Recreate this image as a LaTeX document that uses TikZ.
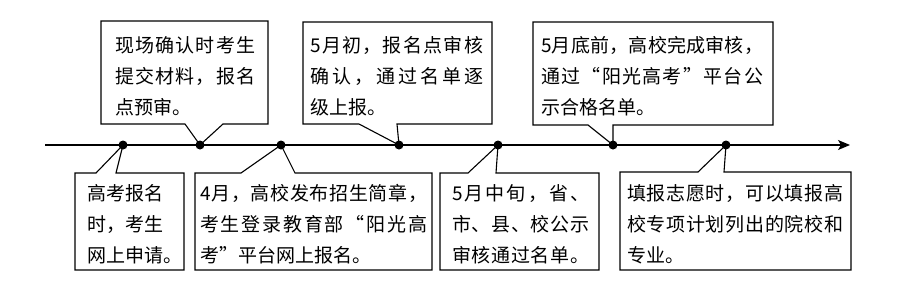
\documentclass[tikz,border=0pt]{standalone}
\usepackage{fontspec}
\newfontfamily\cjk{Noto Sans CJK SC}
\usetikzlibrary{arrows.meta}
\def\spx#1{\ifx\relax#1\else#1\hskip 0pt plus 1fill minus 2pt\expandafter\spx\fi}
\newcommand\jl[2]{\hbox to #1{\spx#2\relax\unskip}}
\newcommand\nl[1]{\hbox{#1}}
\tikzset{
  outline/.style={line width=1.1pt, line join=miter},
  txt/.style={anchor=base west, inner sep=0pt, font=\cjk\fontsize{19}{31}\selectfont},
  dot/.style={circle, fill=black, inner sep=0pt, minimum size=9pt},
}
\begin{document}
\begin{tikzpicture}[x=1pt,y=-1pt]
\useasboundingbox (0,0) rectangle (900,301);
% axis
\coordinate (axs) at (45,145);
\coordinate (axe) at (850,145);
\draw[line width=1.1pt, -{Stealth[length=12pt,width=10pt,inset=3pt]}] (axs) -- (axe);
% dot positions
\coordinate (p1) at (123,145);
\coordinate (p2) at (200,145);
\coordinate (p3) at (281,145);
\coordinate (p4) at (399,145);
\coordinate (p5) at (498,145);
\coordinate (p6) at (613,145);
\coordinate (p7) at (726,145);
% upper boxes
\draw[outline] (101,21) -- (268,21) -- (268,124) -- (223,124) -- (p2) -- (185,124) -- (101,124) -- cycle;
\draw[outline] (303,22) -- (492,22) -- (492,124) -- (397,124) -- (p4) -- (359,124) -- (303,124) -- cycle;
\draw[outline] (533,22) -- (773,22) -- (773,125) -- (613,125) -- (p6) -- (588,125) -- (533,125) -- cycle;
% lower boxes
\draw[outline] (75,270) -- (184,270) -- (184,173) -- (116,173) -- (p1) -- (96,173) -- (75,173) -- cycle;
\draw[outline] (195,270) -- (432,270) -- (432,173) -- (295,173) -- (p3) -- (241,173) -- (195,173) -- cycle;
\draw[outline] (440,270) -- (599,270) -- (599,173) -- (496,173) -- (p5) -- (468,173) -- (440,173) -- cycle;
\draw[outline] (620,270) -- (851,270) -- (851,172) -- (724,172) -- (p7) -- (698,172) -- (620,172) -- cycle;
% dots
\foreach \i in {1,...,7} \node[dot] (d\i) at (p\i) {};
% texts
\node[txt] (t1) at (115,52) {\vtop{\baselineskip=31pt
  \jl{140pt}{现场确认时考生}\jl{140pt}{提交材料，报名}\nl{点预审。}}};
\node[txt] (t2) at (310,52) {\vtop{\baselineskip=31pt
  \jl{173pt}{5月初，报名点审核}\jl{173pt}{确认，通过名单逐}\nl{级上报。}}};
\node[txt] (t3) at (541,52) {\vtop{\baselineskip=31pt
  \jl{222pt}{5月底前，高校完成审核，}\jl{222pt}{通过“阳光高考”平台公}\nl{示合格名单。}}};
\node[txt] (tA) at (87,200) {\vtop{\baselineskip=31pt
  \jl{76pt}{高考报名}\jl{76pt}{时，考生}\nl{网上申请。}}};
\node[txt] (tB) at (200,200) {\vtop{\baselineskip=31pt
  \jl{227pt}{4月，高校发布招生简章，}\jl{227pt}{考生登录教育部“阳光高}\nl{考”平台网上报名。}}};
\node[txt] (tC) at (452,200) {\vtop{\baselineskip=31pt
  \jl{137pt}{5月中旬，省、}\jl{137pt}{市、县、校公示}\jl{137pt}{审核通过名单。}}};
\node[txt] (tD) at (627,200) {\vtop{\baselineskip=31pt
  \jl{216pt}{填报志愿时，可以填报高}\jl{216pt}{校专项计划列出的院校和}\nl{专业。}}};
\end{tikzpicture}
\end{document}
